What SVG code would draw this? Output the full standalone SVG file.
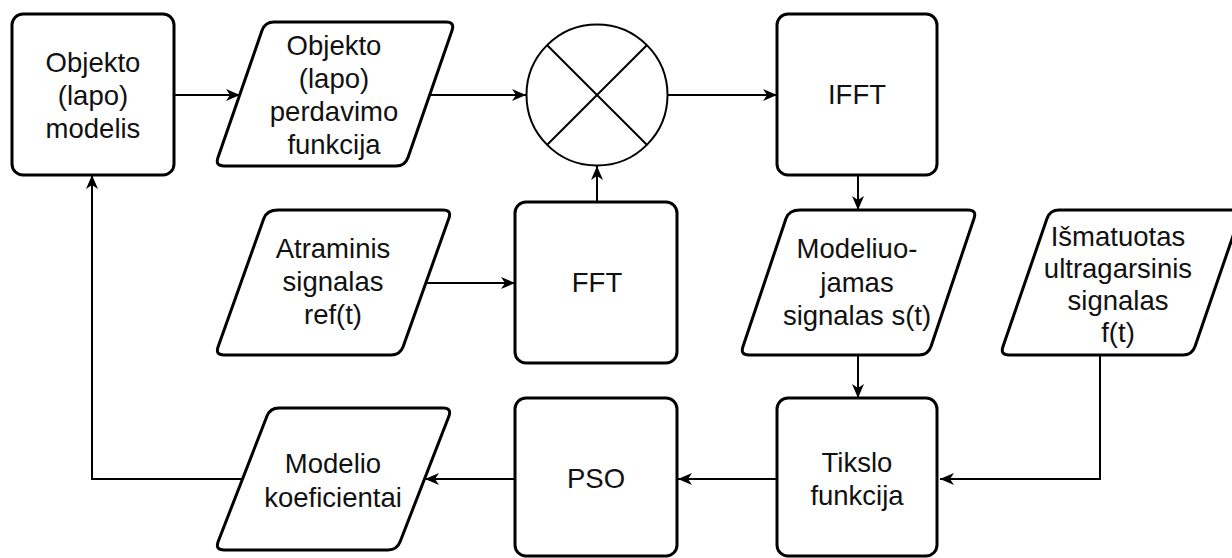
<svg xmlns="http://www.w3.org/2000/svg" width="1232" height="558" viewBox="0 0 1232 558">
  <style>
    .shape { fill: #ffffff; stroke: #000000; stroke-width: 3; stroke-linejoin: round; }
    .circ { fill: #ffffff; stroke: #000000; stroke-width: 2; }
    .cross { stroke: #000000; stroke-width: 2; }
    .edge { fill: none; stroke: #000000; stroke-width: 2; }
    .lbl { font-family: "Liberation Sans", Arial, sans-serif; font-size: 27.5px; fill: #111111; text-anchor: middle; }
  </style>
  <defs>
    <marker id="arrow" markerUnits="userSpaceOnUse" markerWidth="16" markerHeight="14" refX="14" refY="7" orient="auto">
      <path d="M0,1 L14,7 L0,13 L4,7 Z" fill="#000000"/>
    </marker>
  </defs>
  <rect width="1232" height="558" fill="#ffffff"/>

  <!-- connectors -->
  <g id="connectors">
    <line class="edge" x1="174" y1="95" x2="240" y2="95" marker-end="url(#arrow)"/>
    <line class="edge" x1="430" y1="95" x2="526" y2="95" marker-end="url(#arrow)"/>
    <line class="edge" x1="668" y1="95" x2="777" y2="95" marker-end="url(#arrow)"/>
    <line class="edge" x1="858" y1="175" x2="858" y2="210" marker-end="url(#arrow)"/>
    <line class="edge" x1="426" y1="283" x2="515" y2="283" marker-end="url(#arrow)"/>
    <line class="edge" x1="597" y1="202" x2="597" y2="166" marker-end="url(#arrow)"/>
    <line class="edge" x1="858" y1="355" x2="858" y2="398" marker-end="url(#arrow)"/>
    <polyline class="edge" points="1100,355 1100,479 940,479" marker-end="url(#arrow)"/>
    <line class="edge" x1="777" y1="479" x2="678" y2="479" marker-end="url(#arrow)"/>
    <line class="edge" x1="515" y1="479" x2="425" y2="479" marker-end="url(#arrow)"/>
    <polyline class="edge" points="242,479 92,479 92,175" marker-end="url(#arrow)"/>
  </g>

  <!-- nodes -->
  <g id="objekto-modelis">
    <rect class="shape" x="12" y="14" width="162" height="161" rx="11"/>
    <text class="lbl" x="93" y="72">Objekto</text>
    <text class="lbl" x="93" y="105">(lapo)</text>
    <text class="lbl" x="93" y="138">modelis</text>
  </g>

  <g id="perdavimo-funkcija">
    <path class="shape" d="M274,22 L446,22 Q455,22 452,30.5 L408,157.5 Q405,166 396,166 L224,166 Q215,166 218,157.5 L262,30.5 Q265,22 274,22 Z"/>
    <text class="lbl" x="334" y="55">Objekto</text>
    <text class="lbl" x="334" y="88">(lapo)</text>
    <text class="lbl" x="334" y="121">perdavimo</text>
    <text class="lbl" x="334" y="154">funkcija</text>
  </g>

  <g id="daugyba">
    <circle class="circ" cx="597" cy="95" r="70.5"/>
    <line class="cross" x1="547.2" y1="45.2" x2="646.8" y2="144.8"/>
    <line class="cross" x1="646.8" y1="45.2" x2="547.2" y2="144.8"/>
  </g>

  <g id="ifft">
    <rect class="shape" x="777" y="14" width="160" height="161" rx="11"/>
    <text class="lbl" x="857" y="104">IFFT</text>
  </g>

  <g id="atraminis-signalas">
    <path class="shape" d="M278,210 L443,210 Q452,210 448.8,218.5 L403.2,346.5 Q400,355 391,355 L224,355 Q215,355 218.2,346.5 L263.8,218.5 Q267,210 278,210 Z"/>
    <text class="lbl" x="333" y="258">Atraminis</text>
    <text class="lbl" x="333" y="291">signalas</text>
    <text class="lbl" x="333" y="324">ref(t)</text>
  </g>

  <g id="fft">
    <rect class="shape" x="515" y="202" width="162" height="161" rx="11"/>
    <text class="lbl" x="597" y="292">FFT</text>
  </g>

  <g id="modeliuojamas-signalas">
    <path class="shape" d="M800,210 L968,210 Q977,210 974,218.5 L931,346.5 Q928,355 919,355 L749,355 Q740,355 743,346.5 L786,218.5 Q789,210 800,210 Z"/>
    <text class="lbl" x="857" y="258">Modeliuo-</text>
    <text class="lbl" x="857" y="292">jamas</text>
    <text class="lbl" x="857" y="325">signalas s(t)</text>
  </g>

  <g id="ismatuotas-signalas">
    <path class="shape" d="M1059,210 L1233,210 Q1242,210 1239,218.5 L1195,346.5 Q1192,355 1183,355 L1009,355 Q1000,355 1003,346.5 L1047,218.5 Q1050,210 1059,210 Z"/>
    <text class="lbl" x="1118" y="246">Išmatuotas</text>
    <text class="lbl" x="1118" y="278">ultragarsinis</text>
    <text class="lbl" x="1118" y="310">signalas</text>
    <text class="lbl" x="1118" y="342">f(t)</text>
  </g>

  <g id="tikslo-funkcija">
    <rect class="shape" x="777" y="398" width="160" height="158" rx="11"/>
    <text class="lbl" x="857" y="472">Tikslo</text>
    <text class="lbl" x="857" y="505">funkcija</text>
  </g>

  <g id="pso">
    <rect class="shape" x="515" y="398" width="162" height="158" rx="11"/>
    <text class="lbl" x="596" y="488">PSO</text>
  </g>

  <g id="modelio-koeficientai">
    <path class="shape" d="M279,408 L443,408 Q452,408 448.8,416.5 L400.2,541.5 Q397,550 388,550 L224,550 Q215,550 218.2,541.5 L266.8,416.5 Q270,408 279,408 Z"/>
    <text class="lbl" x="333" y="473">Modelio</text>
    <text class="lbl" x="333" y="507">koeficientai</text>
  </g>
</svg>
